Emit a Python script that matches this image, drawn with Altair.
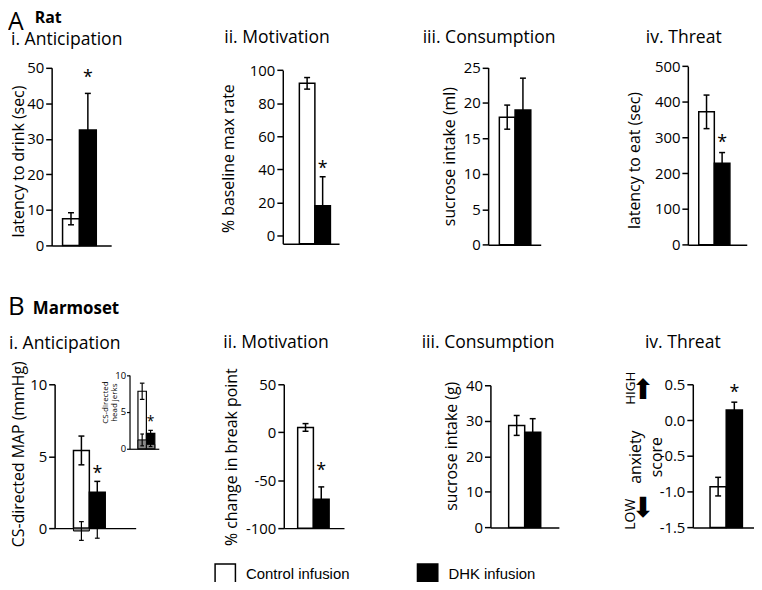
import altair as alt
import pandas as pd

# ---------------- data ----------------
groups = ["Control infusion", "DHK infusion"]

# A. Rat
rat_anticipation = [7.5, 32.5]
rat_anticipation_sem = [1.7, 10.3]
rat_motivation = [92.0, 18.0]
rat_motivation_sem = [3.5, 17.5]
rat_consumption = [18.0, 19.0]
rat_consumption_sem = [1.7, 4.5]
rat_threat = [372.0, 228.0]
rat_threat_sem = [47.0, 30.0]

# B. Marmoset
mar_map = [5.4, 2.5]
mar_map_sem = [1.0, 0.75]
mar_map_baseline = [-0.2, 0.0]
mar_map_baseline_sem = [0.65, 0.7]
mar_jerks = [7.8, 2.1]
mar_jerks_sem = [1.1, 0.4]
mar_jerks_baseline = [1.2, 0.6]
mar_jerks_baseline_sem = [0.8, 0.3]
mar_motivation = [5.0, -70.0]
mar_motivation_sem = [4.0, 13.0]
mar_consumption = [28.7, 26.8]
mar_consumption_sem = [2.8, 3.8]
mar_threat = [-0.93, 0.14]
mar_threat_sem = [0.13, 0.11]

# tick labels
ticks_rat_anticipation = [0, 10, 20, 30, 40, 50]
ticks_rat_motivation = [0, 20, 40, 60, 80, 100]
ticks_rat_consumption = [0, 5, 10, 15, 20, 25]
ticks_rat_threat = [0, 100, 200, 300, 400, 500]
ticks_mar_map = [0, 5, 10]
ticks_mar_jerks = [0, 5, 10]
ticks_mar_motivation = [-100, -50, 0, 50]
ticks_mar_consumption = [0, 10, 20, 30, 40]
ticks_mar_threat = [-1.5, -1.0, -0.5, 0.0, 0.5]

# ---------------- layout / style ----------------
FONT = "Open Sans"
W, H = 752, 574


def px(v):
    return v - 8


fill_scale = alt.Scale(domain=groups, range=["white", "black"])
legend = alt.Legend(
    orient="none", legendX=px(216), legendY=px(565), direction="horizontal",
    title=None, symbolType="square", symbolSize=420, symbolStrokeColor="black",
    symbolStrokeWidth=1.5, labelFont="Liberation Sans", labelFontSize=15,
    labelColor="black", labelOffset=10, columnPadding=64,
)
GROUP_EXPR = "indexof(" + str(groups).replace('"', "'") + ", datum.group)"


def prep(df, cap):
    return alt.Chart(df).transform_calculate(
        i=GROUP_EXPR,
    ).transform_calculate(
        i2="datum.i + 1", c="datum.i + 0.5",
        cl="datum.i + 0.5 - %f" % cap, cr="datum.i + 0.5 + %f" % cap,
        lo="datum.mean - datum.sem", hi="datum.mean + datum.sem",
    )


def panel(p, show_legend=False):
    df = pd.DataFrame({"group": groups, "mean": p["mean"], "sem": p["sem"]})
    x0, x1, b0, b1 = p["x"]
    bw = (b1 - b0) / len(groups)
    xs = alt.Scale(domain=[-(b0 - x0) / bw, (x1 - b0) / bw],
                   range=[px(x0), px(x1)], nice=False, zero=False)
    yb, yt = p["y"]
    ys = alt.Scale(domain=p["dom"], range=[px(yb), px(yt)], nice=False, zero=False)
    small = p.get("small", False)
    capw = (2.3 if small else 3.0) / bw
    base = prep(df, capw).transform_calculate(base=str(p["dom"][0]))
    yaxis = alt.Axis(
        orient="left", offset=-px(x0), values=p["ticks"], title=p["title"],
        titleX=p["tx"] - x0, titleY=px(p["ty"]), titleAngle=-90,
        titleAlign="center", titleBaseline="middle",
        titleFontSize=8 if small else 16, titleLineHeight=p.get("lh", 18),
        labelFontSize=9.5 if small else 15, tickSize=3 if small else 6,
        labelPadding=1 if small else 2, domainWidth=1.2 if small else 1.5,
        tickWidth=1.2 if small else 1.5,
        format=p.get("fmt", "d"),
        labelExpr="replace(datum.label, '\u2212', '-')",
    )
    xaxis = alt.Axis(orient="bottom", offset=px(yb) - H, ticks=False,
                     labels=False, title=None,
                     domainWidth=1.2 if small else 1.5)
    X = lambda f, ax=None: alt.X(f, type="quantitative", scale=xs, axis=ax)
    Y = lambda f, ax=None: alt.Y(f, type="quantitative", scale=ys, axis=ax)
    sw = 1.2 if small else 1.5
    layers = [
        base.mark_bar(stroke="black", strokeWidth=sw).encode(
            x=X("i", xaxis), x2="i2:Q",
            y=Y("mean", yaxis), y2="base:Q",
            fill=alt.Fill("group:N", scale=fill_scale,
                          legend=legend if show_legend else None),
        )
    ]
    if "bmean" in p:
        bdf = pd.DataFrame({"group": groups, "mean": p["bmean"], "sem": p["bsem"]})
        bbase = prep(bdf, capw * 0.8)
        layers.append(bbase.mark_bar(fill="#8a8a8a", stroke="black", strokeWidth=1).encode(
            x=X("i"), x2="i2:Q", y=Y("mean"), y2=alt.datum(0)))
    layers += [
        base.mark_rule(color="black", strokeWidth=sw).encode(
            x=X("c"), y=Y("lo"), y2="hi:Q"),
        base.mark_rule(color="black", strokeWidth=sw).encode(
            x=X("cl"), x2="cr:Q", y=Y("hi")),
        base.mark_rule(color="black", strokeWidth=sw).encode(
            x=X("cl"), x2="cr:Q", y=Y("lo")),
    ]
    if "bmean" in p:
        layers += [
            bbase.mark_rule(color="black", strokeWidth=1.2).encode(
                x=X("c"), y=Y("lo"), y2="hi:Q"),
            bbase.mark_rule(color="black", strokeWidth=1.2).encode(
                x=X("cl"), x2="cr:Q", y=Y("lo")),
            bbase.mark_rule(color="black", strokeWidth=1.2).encode(
                x=X("cl"), x2="cr:Q", y=Y("hi")),
        ]
    if "star" in p:
        fs = 14 if small else 18
        layers.append(
            base.transform_filter(alt.datum.group == groups[1]).mark_text(
                text="*", font=FONT, fontSize=fs, baseline="alphabetic",
                align="center", color="black", dy=-p["star"] + 0.55 * fs,
            ).encode(x=X("c"), y=Y("hi"))
        )
    return layers


def label(s, x, y, size, weight="normal", font=FONT, angle=0, align="left",
          baseline="middle"):
    return alt.Chart(pd.DataFrame({"t": [s]})).mark_text(
        align=align, baseline=baseline, fontSize=size, fontWeight=weight,
        font=font, angle=angle, color="black",
    ).encode(text="t:N", x=alt.value(px(x)), y=alt.value(px(y)))


panels = [
    dict(mean=rat_anticipation, sem=rat_anticipation_sem, dom=[0, 50],
         ticks=ticks_rat_anticipation, x=(52, 112, 63, 97), y=(245, 66),
         title="latency to drink (sec)", tx=18.5, ty=160, star=20),
    dict(mean=rat_motivation, sem=rat_motivation_sem, dom=[-5, 100],
         ticks=ticks_rat_motivation, x=(285, 341.7, 301.7, 333), y=(243.3, 68.3),
         title="% baseline max rate", tx=230, ty=157, star=13),
    dict(mean=rat_consumption, sem=rat_consumption_sem, dom=[0, 25],
         ticks=ticks_rat_consumption, x=(492, 545, 503.3, 535), y=(244.3, 65.7),
         title="sucrose intake (ml)", tx=453, ty=155),
    dict(mean=rat_threat, sem=rat_threat_sem, dom=[0, 500],
         ticks=ticks_rat_threat, x=(693.3, 752.7, 704.3, 735.7), y=(244.3, 64.3),
         title="latency to eat (sec)", tx=640, ty=159, star=14),
    dict(mean=mar_map, sem=mar_map_sem, bmean=mar_map_baseline,
         bsem=mar_map_baseline_sem, dom=[0, 10], ticks=ticks_mar_map,
         x=(55, 136.7, 74, 106), y=(530, 385),
         title="CS-directed MAP (mmHg)", tx=18.5, ty=455, star=12),
    dict(mean=mar_jerks, sem=mar_jerks_sem, bmean=mar_jerks_baseline,
         bsem=mar_jerks_baseline_sem, dom=[0, 10], ticks=ticks_mar_jerks,
         x=(130.5, 160, 139, 156), y=(450, 375.7), small=True, lh=9,
         title=["CS-directed", "head jerks"], tx=106, ty=403, star=12),
    dict(mean=mar_motivation, sem=mar_motivation_sem, dom=[-100, 50],
         ticks=ticks_mar_motivation, x=(286, 346.7, 300, 331.7), y=(530, 385),
         title="% change in break point", tx=233, ty=458, star=21),
    dict(mean=mar_consumption, sem=mar_consumption_sem, dom=[0, 40],
         ticks=ticks_mar_consumption, x=(494.3, 563.3, 512.7, 545), y=(529.3, 386),
         title="sucrose intake (g)", tx=455, ty=447),
    dict(mean=mar_threat, sem=mar_threat_sem, dom=[-1.5, 0.5],
         ticks=ticks_mar_threat, x=(698.3, 760, 715.7, 748.3), y=(529.3, 385),
         title=["anxiety", "score"], tx=640.5, ty=458, lh=21, star=14, fmt=".1f"),
]

layers = []
for k, p in enumerate(panels):
    layers += panel(p, show_legend=(k == 0))

TS = 17.7
texts = [
    label("A", 8, 28, 25, baseline="alphabetic"),
    label("Rat", 35, 21, 16, weight="bold", baseline="alphabetic"),
    label("B", 8, 315, 26, baseline="alphabetic"),
    label("Marmoset", 33, 309, 17, weight="bold"),
    label("i. Anticipation", 11, 38, TS),
    label("ii. Motivation", 226, 36, TS),
    label("iii. Consumption", 426, 36, TS),
    label("iv. Threat", 651, 36, TS),
    label("i. Anticipation", 9, 344, TS),
    label("ii. Motivation", 225, 343, TS),
    label("iii. Consumption", 425, 343, TS),
    label("iv. Threat", 650, 343, TS),
    label("HIGH", 636, 389, 13.5, angle=270, align="center"),
    label("\u2b06", 648, 392, 28, font="DejaVu Sans", align="center"),
    label("LOW", 636, 516, 14, angle=270, align="center"),
    label("\u2b07", 648, 511, 28, font="DejaVu Sans", align="center"),
]

chart = alt.layer(*layers, *texts).resolve_scale(
    x="independent", y="independent"
).properties(
    width=W, height=H, padding=0, autosize=alt.AutoSizeParams(type="none"),
    background="white",
).configure_view(strokeWidth=0).configure_axis(
    domainColor="black", tickColor="black",
    labelColor="black", labelFont=FONT, titleFont=FONT,
    titleColor="black", titleFontWeight="normal", grid=False,
)

chart.save("out.html", embed_options={"renderer": "svg", "actions": False})
